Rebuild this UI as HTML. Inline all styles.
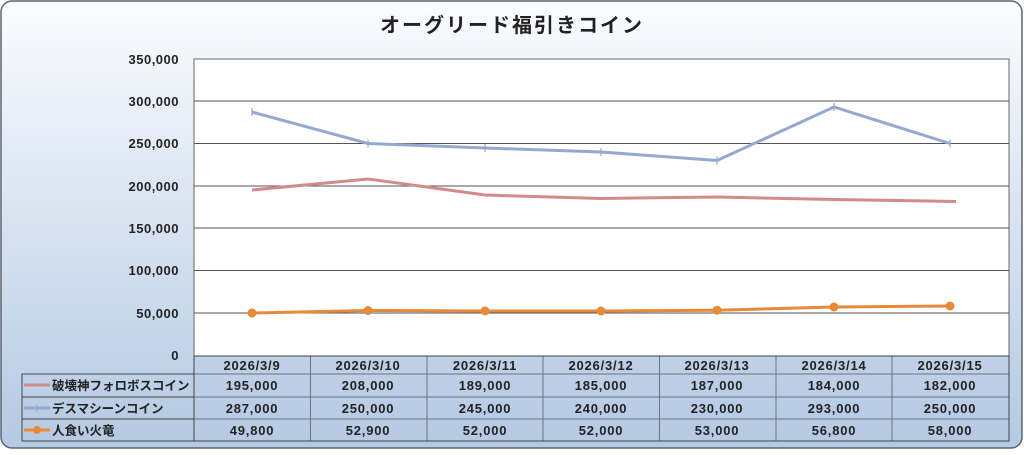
<!DOCTYPE html>
<html><head><meta charset="utf-8"><style>
body{margin:0;width:1024px;height:450px;overflow:hidden;background:#fff}
svg text{font-family:"Liberation Sans","Noto Sans CJK JP",sans-serif;fill:#222}
</style></head><body>
<svg width="1024" height="450" viewBox="0 0 1024 450">
<defs><linearGradient id="bg" x1="0" y1="0" x2="0" y2="1">
<stop offset="0" stop-color="#fbfcfe"/><stop offset="1" stop-color="#b4c9e3"/></linearGradient></defs>
<rect x="1" y="1" width="1021" height="447" rx="11" fill="url(#bg)" stroke="#5b6470" stroke-width="1.5"/>
<text x="512" y="32" font-size="20" font-weight="bold" text-anchor="middle" letter-spacing="2">オーグリード福引きコイン</text>
<rect x="194" y="59" width="815" height="297" fill="#fff" stroke="#666"/>
<g stroke="#555" stroke-width="1">
<line x1="194" y1="101" x2="1009" y2="101"/><line x1="194" y1="143.5" x2="1009" y2="143.5"/>
<line x1="194" y1="186" x2="1009" y2="186"/><line x1="194" y1="228" x2="1009" y2="228"/>
<line x1="194" y1="270.5" x2="1009" y2="270.5"/><line x1="194" y1="313" x2="1009" y2="313"/>
</g>
<g font-size="13" font-weight="bold" text-anchor="end" letter-spacing="0.5">
<text x="179" y="64">350,000</text><text x="179" y="106">300,000</text><text x="179" y="148">250,000</text>
<text x="179" y="191">200,000</text><text x="179" y="233">150,000</text><text x="179" y="275">100,000</text>
<text x="179" y="318">50,000</text><text x="179" y="360">0</text></g>
<polyline fill="none" stroke="#d48a88" stroke-width="3" points="252,190 368,179 485,195 601,198.5 717,197 834,199.5 956,201.5"/>
<polyline fill="none" stroke="#93a9d0" stroke-width="3" points="252,112 368,143.5 485,148 601,152 717,160.5 834,107 950,143.5"/>
<g stroke="#93a9d0" stroke-width="1.2"><path d="M252 108v8M368 139.5v8M485 144v8M601 148v8M717 156.5v8M834 103v8M950 139.5v8"/></g>
<polyline fill="none" stroke="#e68a3a" stroke-width="3" points="252,313 368,310.5 485,311 601,311 717,310.2 834,307 950,306"/>
<g fill="#e68a3a"><circle cx="252" cy="313" r="4.5"/><circle cx="368" cy="310.5" r="4.5"/><circle cx="485" cy="311" r="4.5"/><circle cx="601" cy="311" r="4.5"/><circle cx="717" cy="310.2" r="4.5"/><circle cx="834" cy="307" r="4.5"/><circle cx="950" cy="306" r="4.5"/></g>
<g fill="none" stroke="#444" stroke-width="1">
<rect x="194" y="356" width="815" height="85"/>
<rect x="22" y="374" width="172" height="67"/>
<line x1="22" y1="397" x2="1009" y2="397"/><line x1="22" y1="419" x2="1009" y2="419"/><line x1="194" y1="374" x2="1009" y2="374"/>
<line x1="310.5" y1="356" x2="310.5" y2="441"/><line x1="427" y1="356" x2="427" y2="441"/><line x1="543" y1="356" x2="543" y2="441"/>
<line x1="659.5" y1="356" x2="659.5" y2="441"/><line x1="776" y1="356" x2="776" y2="441"/><line x1="892" y1="356" x2="892" y2="441"/>
</g>
<rect x="194.5" y="356.5" width="814" height="84" fill="#b9cce4" opacity="0.35"/>
<line x1="24" y1="385" x2="50" y2="385" stroke="#d48a88" stroke-width="3"/>
<line x1="24" y1="408" x2="50" y2="408" stroke="#93a9d0" stroke-width="3"/><line x1="37" y1="404" x2="37" y2="412" stroke="#93a9d0"/>
<line x1="24" y1="430" x2="50" y2="430" stroke="#e68a3a" stroke-width="3"/><circle cx="37" cy="430" r="4" fill="#e68a3a"/>
<g font-size="12.5" font-weight="bold">
<text x="52" y="390">破壊神フォロボスコイン</text><text x="52" y="413">デスマシーンコイン</text><text x="52" y="435">人食い火竜</text></g>
<g font-size="13" font-weight="bold" text-anchor="middle" letter-spacing="0.8">
<text x="252" y="370">2026/3/9</text><text x="368" y="370">2026/3/10</text><text x="485" y="370">2026/3/11</text><text x="601" y="370">2026/3/12</text><text x="717" y="370">2026/3/13</text><text x="834" y="370">2026/3/14</text><text x="950" y="370">2026/3/15</text>
<text x="252" y="390">195,000</text><text x="368" y="390">208,000</text><text x="485" y="390">189,000</text><text x="601" y="390">185,000</text><text x="717" y="390">187,000</text><text x="834" y="390">184,000</text><text x="950" y="390">182,000</text>
<text x="252" y="413">287,000</text><text x="368" y="413">250,000</text><text x="485" y="413">245,000</text><text x="601" y="413">240,000</text><text x="717" y="413">230,000</text><text x="834" y="413">293,000</text><text x="950" y="413">250,000</text>
<text x="252" y="435">49,800</text><text x="368" y="435">52,900</text><text x="485" y="435">52,000</text><text x="601" y="435">52,000</text><text x="717" y="435">53,000</text><text x="834" y="435">56,800</text><text x="950" y="435">58,000</text>
</g>
</svg>
</body></html>
